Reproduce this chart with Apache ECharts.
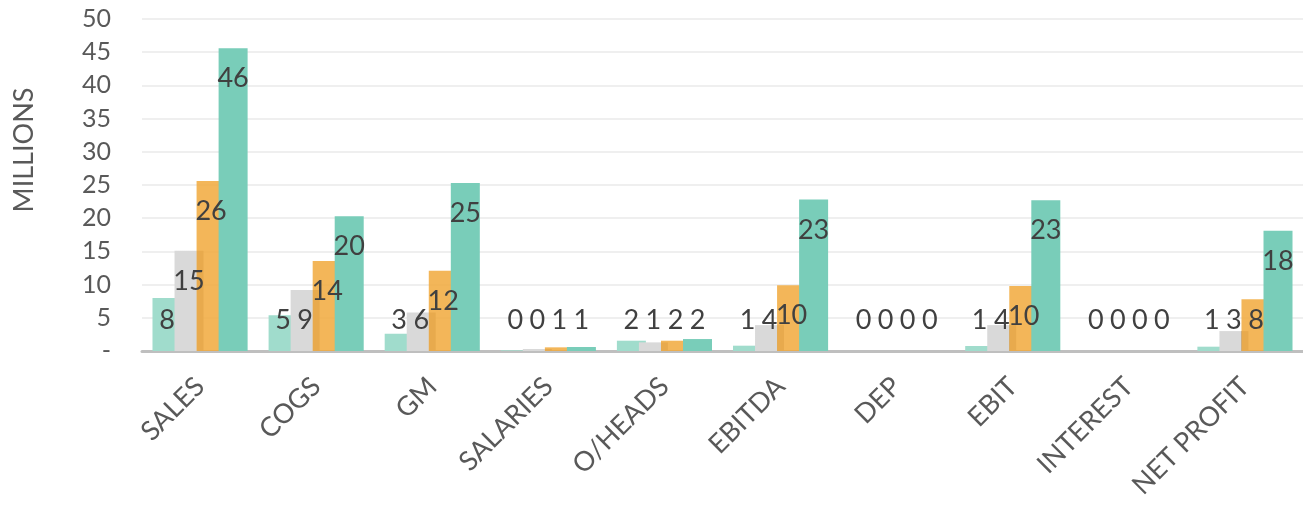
<!DOCTYPE html>
<html>
<head>
<meta charset="utf-8">
<script src="https://cdn.jsdelivr.net/npm/echarts@6/dist/echarts.min.js"></script>
<style>
  html, body { margin: 0; padding: 0; background: #ffffff; }
  #main { width: 1303px; height: 506px; }
</style>
</head>
<body>
<div id="main"></div>
<script>
  // categories and the four series (millions)
  var categories = ['SALES', 'COGS', 'GM', 'SALARIES', 'O/HEADS', 'EBITDA', 'DEP', 'EBIT', 'INTEREST', 'NET PROFIT'];
  var seriesNames = ['Year 1', 'Year 2', 'Year 3', 'Year 4'];
  var year1 = [8.0, 5.4, 2.6, 0.1, 1.55, 0.8, 0, 0.75, 0, 0.65];
  var year2 = [15.1, 9.2, 5.8, 0.3, 1.3, 3.9, 0, 3.9, 0, 3.0];
  var year3 = [25.6, 13.55, 12.1, 0.55, 1.55, 9.9, 0, 9.8, 0, 7.8];
  var year4 = [45.6, 20.3, 25.3, 0.6, 1.8, 22.8, 0, 22.7, 0, 18.1];
  var yTicks = [0, 5, 10, 15, 20, 25, 30, 35, 40, 45, 50];

  var font = 'Lato, "Open Sans", sans-serif';
  var textColor = '#595959';

  // gray bar gets a darker right strip where the orange bar overlaps it
  var grayFill = {
    type: 'linear', x: 0, y: 0, x2: 1, y2: 0,
    colorStops: [
      {offset: 0, color: '#d9d9d9'},
      {offset: 0.76, color: '#d9d9d9'},
      {offset: 0.76, color: '#b4b0ad'},
      {offset: 1, color: '#b4b0ad'}
    ]
  };
  var colors = ['#a0dccc', grayFill, 'rgba(241,169,60,0.85)', '#79cdb9'];

  // labels sit inside the top of tall bars, and a fixed height above the axis for short ones
  function makeData(values) {
    return values.map(function (v) {
      return {
        value: v,
        label: {position: v > 9.7 ? 'insideTop' : 'insideBottom'}
      };
    });
  }

  var myChart = echarts.init(document.getElementById('main'));

  var option = {
    animation: false,
    backgroundColor: '#ffffff',
    grid: {left: 142, right: -15, top: 19, bottom: 155},
    xAxis: {
      type: 'category',
      data: categories,
      axisLine: {show: true, lineStyle: {color: '#bfbfbf', width: 3}},
      axisTick: {show: false},
      axisLabel: {
        rotate: 45,
        interval: 0,
        margin: 31,
        fontSize: 27,
        color: textColor,
        fontFamily: font
      }
    },
    yAxis: {
      type: 'value',
      min: yTicks[0],
      max: yTicks[yTicks.length - 1],
      interval: 5,
      name: 'MILLIONS',
      nameLocation: 'middle',
      nameGap: 104,
      nameTextStyle: {fontSize: 27, color: textColor, fontFamily: font, padding: [0, 0, 0, 70]},
      axisLine: {show: false},
      axisTick: {show: false},
      axisLabel: {
        margin: 31,
        fontSize: 25,
        color: textColor,
        fontFamily: font,
        formatter: function (v) { return v === 0 ? '-' : String(v); }
      },
      splitLine: {lineStyle: {color: '#efefef', width: 2}}
    },
    series: [year1, year2, year3, year4].map(function (vals, i) {
      return {
        name: seriesNames[i],
        type: 'bar',
        barWidth: 29,
        barGap: '-24%',
        data: makeData(vals),
        itemStyle: {color: colors[i]},
        label: {
          show: true,
          distance: 17,
          fontSize: 27,
          color: '#404040',
          fontFamily: font,
          formatter: function (p) { return String(Math.round(p.value)); }
        }
      };
    })
  };

  myChart.setOption(option);
</script>
</body>
</html>
